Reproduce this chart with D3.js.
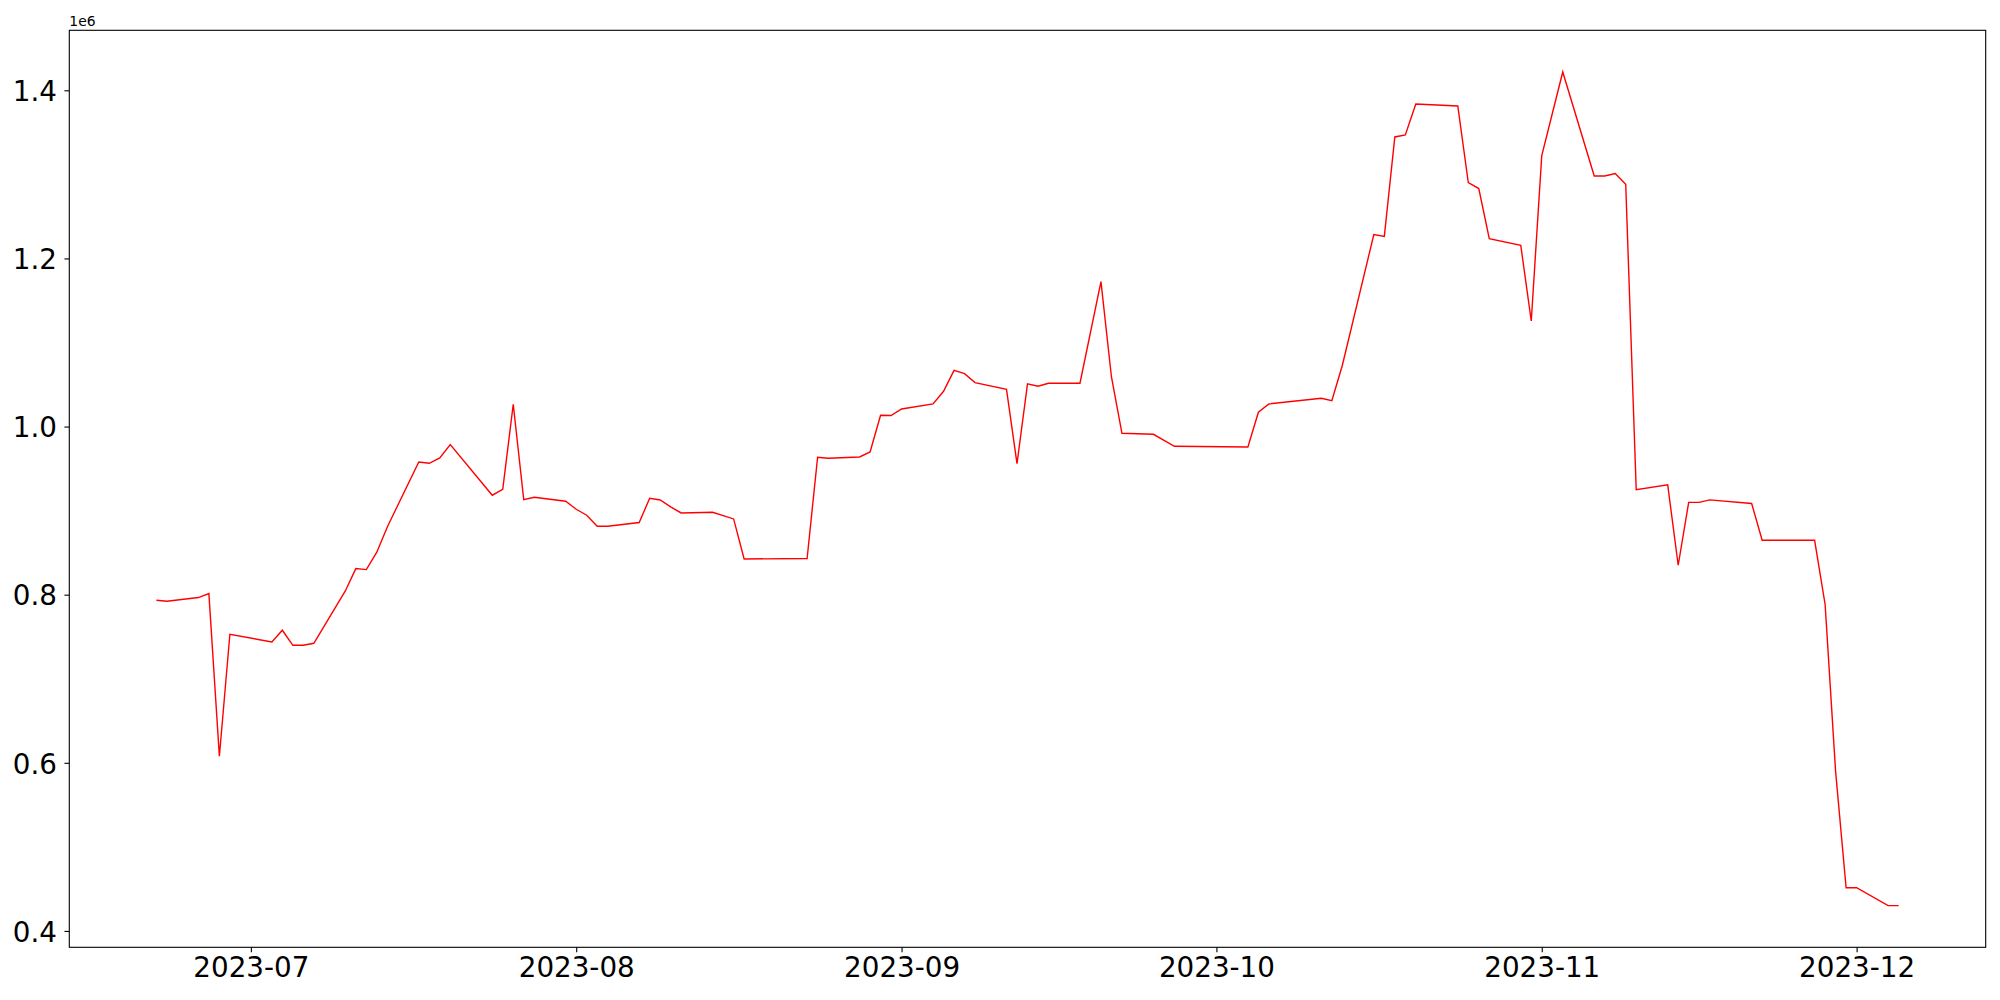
<!DOCTYPE html>
<html>
<head>
<meta charset="utf-8">
<script src="https://cdn.jsdelivr.net/npm/d3@7"></script>
<style>
  body { margin: 0; background: #fff; }
  text { font-family: "DejaVu Sans", sans-serif; }
</style>
</head>
<body>
<script>
const dates = [
  "2023-06-22", "2023-06-23", "2023-06-26", "2023-06-27", "2023-06-28", "2023-06-29",
  "2023-07-03", "2023-07-04", "2023-07-05", "2023-07-06", "2023-07-07",
  "2023-07-10", "2023-07-11", "2023-07-12", "2023-07-13", "2023-07-14",
  "2023-07-17", "2023-07-18", "2023-07-19", "2023-07-20",
  "2023-07-24", "2023-07-25", "2023-07-26", "2023-07-27", "2023-07-28",
  "2023-07-31", "2023-08-01", "2023-08-02", "2023-08-03", "2023-08-04",
  "2023-08-07", "2023-08-08", "2023-08-09", "2023-08-10", "2023-08-11",
  "2023-08-14", "2023-08-16", "2023-08-17", "2023-08-23", "2023-08-24", "2023-08-25",
  "2023-08-28", "2023-08-29", "2023-08-30", "2023-08-31", "2023-09-01",
  "2023-09-04", "2023-09-05", "2023-09-06", "2023-09-07", "2023-09-08",
  "2023-09-11", "2023-09-12", "2023-09-13", "2023-09-14", "2023-09-15",
  "2023-09-18", "2023-09-20", "2023-09-21", "2023-09-22",
  "2023-09-25", "2023-09-27", "2023-10-04", "2023-10-05", "2023-10-06",
  "2023-10-11", "2023-10-12", "2023-10-13",
  "2023-10-16", "2023-10-17", "2023-10-18", "2023-10-19", "2023-10-20",
  "2023-10-24", "2023-10-25", "2023-10-26", "2023-10-27",
  "2023-10-30", "2023-10-31", "2023-11-01", "2023-11-03",
  "2023-11-06", "2023-11-07", "2023-11-08", "2023-11-09", "2023-11-10",
  "2023-11-13", "2023-11-14", "2023-11-15", "2023-11-16", "2023-11-17",
  "2023-11-21", "2023-11-22", "2023-11-27", "2023-11-28", "2023-11-29", "2023-11-30",
  "2023-12-01", "2023-12-04", "2023-12-05"
];

const values = [
  793400, 792200, 796600, 801300, 607800, 752900,
  743800, 757700, 739800, 739800, 742200,
  804400, 831000, 829800, 850500, 880600,
  957900, 956300, 962700, 978500,
  918300, 925400, 1026500, 913100, 915900,
  911100, 901600, 894500, 881400, 881400,
  885800, 914700, 912700, 904400, 897200,
  898000, 890100, 842500, 843000, 963500, 962300,
  963800, 969800, 1013400, 1013100, 1020900,
  1026900, 1042000, 1066900, 1063000, 1052300,
  1044300, 955900, 1050700, 1047900, 1051500,
  1051500, 1172400, 1059000, 992000,
  990800, 976500, 975700, 1017000, 1026900,
  1033600, 1030900, 1072900,
  1228400, 1226300, 1344500, 1346900, 1383700,
  1381300, 1290200, 1283100, 1223600,
  1215600, 1125600, 1322300, 1421800,
  1298100, 1298100, 1300900, 1288200, 925000,
  930600, 835000, 909800, 909800, 912800,
  908500, 864700, 864700, 788300, 589500, 451400,
  451400, 430100, 430100
];

const xTickDates = ["2023-07-01", "2023-08-01", "2023-09-01", "2023-10-01", "2023-11-01", "2023-12-01"];
const yTicks = [400000, 600000, 800000, 1000000, 1200000, 1400000];

const width = 2000;
const height = 1000;
const margin = { top: 30.3, right: 14.3, bottom: 52.7, left: 69.3 };
const fontSize = 27.78;
const tickLen = 4.86;

const parse = d3.timeParse("%Y-%m-%d");
const data = dates.map((d, i) => ({ date: parse(d), value: values[i] }));

const svg = d3.select("body")
  .append("svg")
  .attr("width", width)
  .attr("height", height);

// matplotlib-style 5% margins around the data range
const xExt = d3.extent(data, d => d.date);
const xPad = (xExt[1] - xExt[0]) * 0.05;
const xScale = d3.scaleTime()
  .domain([new Date(+xExt[0] - xPad), new Date(+xExt[1] + xPad)])
  .range([margin.left, width - margin.right]);

const yExt = d3.extent(data, d => d.value);
const yPad = (yExt[1] - yExt[0]) * 0.05;
const yScale = d3.scaleLinear()
  .domain([yExt[0] - yPad, yExt[1] + yPad])
  .range([height - margin.bottom, margin.top]);

const line = d3.line()
  .x(d => xScale(d.date))
  .y(d => yScale(d.value));

svg.append("path")
  .datum(data)
  .attr("fill", "none")
  .attr("stroke", "red")
  .attr("stroke-width", 1.4)
  .attr("stroke-linejoin", "miter")
  .attr("d", line);

const xAxis = d3.axisBottom(xScale)
  .tickValues(xTickDates.map(parse))
  .tickFormat(d3.timeFormat("%Y-%m"))
  .tickSize(tickLen)
  .tickPadding(4.86)
  .tickSizeOuter(0);

const yAxis = d3.axisLeft(yScale)
  .tickValues(yTicks)
  .tickFormat(d => (d / 1e6).toFixed(1))
  .tickSize(tickLen)
  .tickPadding(7.5)
  .tickSizeOuter(0);

const gx = svg.append("g")
  .attr("transform", "translate(0," + (height - margin.bottom) + ")")
  .call(xAxis);

const gy = svg.append("g")
  .attr("transform", "translate(" + margin.left + ",0)")
  .call(yAxis);

[gx, gy].forEach(g => {
  g.select(".domain").remove();
  g.selectAll(".tick line").attr("stroke", "#000").attr("stroke-width", 1.1);
  g.selectAll(".tick text")
    .attr("fill", "#000")
    .style("font-family", "'DejaVu Sans', sans-serif")
    .style("font-size", fontSize + "px");
});
gy.selectAll(".tick text").attr("dy", "0.37em");

// axes frame
svg.append("rect")
  .attr("x", margin.left)
  .attr("y", margin.top)
  .attr("width", width - margin.left - margin.right)
  .attr("height", height - margin.top - margin.bottom)
  .attr("fill", "none")
  .attr("stroke", "#000")
  .attr("stroke-width", 1.1);

// offset text
svg.append("text")
  .attr("x", margin.left)
  .attr("y", 26)
  .attr("font-size", 13.9)
  .text("1e6");
</script>
</body>
</html>
